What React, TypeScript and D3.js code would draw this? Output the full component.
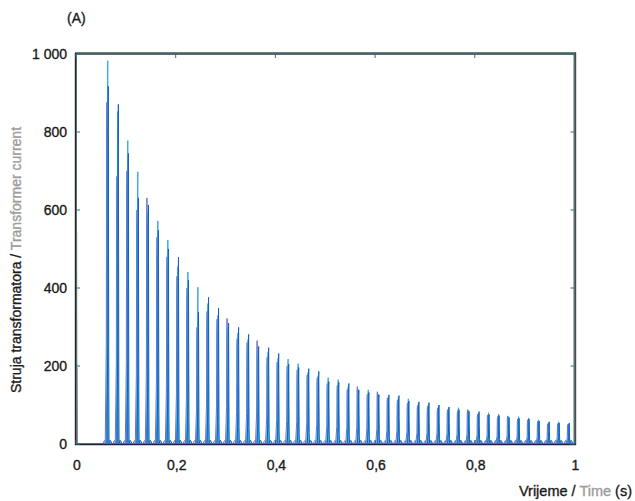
import React from "react";
import * as d3 from "d3";

const W = 635;
const H = 501;
const X0 = 76;
const X1 = 574.5;
const Y0 = 444;
const Y1 = 54;

const xTicks = [0, 0.2, 0.4, 0.6, 0.8, 1];
const xTickLabels = ["0", "0,2", "0,4", "0,6", "0,8", "1"];
const yTicks = [0, 200, 400, 600, 800, 1000];
const yTickLabels = ["0", "200", "400", "600", "800", "1 000"];

// Timing of the current pulses (one per 50 Hz cycle)
const firstPeakTime = 0.0637;
const cyclePeriod = 0.0201;

// Peak current per cycle (A), three overlaid traces
const peaksA = [917, 871, 745, 631, 613, 548, 500, 479, 420, 338, 376, 348, 310, 299, 281, 250, 247, 232, 205, 196, 193, 186, 160, 158, 155, 138, 132, 126, 126, 124, 110, 108, 106, 100, 95, 88, 84, 83, 76, 73, 68, 66, 64, 59, 57, 54, 54];
const peaksB = [983, 853, 778, 698, 595, 572, 523, 455, 441, 402, 360, 330, 300, 285, 268, 240, 236, 220, 218, 206, 184, 175, 170, 165, 146, 140, 139, 128, 120, 118, 116, 102, 100, 96, 90, 93, 86, 78, 80, 77, 70, 70, 67, 62, 54, 57, 51];
const peaksC = [876, 686, 700, 600, 631, 530, 480, 430, 400, 299, 340, 320, 322, 270, 260, 265, 222, 210, 200, 190, 178, 170, 155, 150, 140, 147, 128, 134, 118, 112, 105, 98, 96, 92, 88, 85, 88, 76, 74, 70, 72, 64, 62, 58, 52, 52, 50];

// Initial inrush at switch-on (A)
const initialInrush = [545, 196];

type Pt = [number, number];

const x = d3.scaleLinear().domain([0, 1]).range([X0, X1]);
const y = d3.scaleLinear().domain([0, 1000]).range([Y0, Y1]);

function buildSeries(peaks: number[], shift: number, humpAfter: boolean): Pt[] {
  const pts: Pt[] = [[0.002, 1]];
  peaks.forEach((p, k) => {
    const tp = firstPeakTime + k * cyclePeriod + shift;
    if (!humpAfter) {
      pts.push([tp - 0.0075, 1], [tp - 0.006, 7], [tp - 0.0045, 9], [tp - 0.0032, 2]);
    } else {
      pts.push([tp - 0.003, 1]);
    }
    pts.push(
      [tp - 0.0011, 0.3 * p],
      [tp - 0.0006, 0.9 * p],
      [tp, p],
      [tp + 0.0004, 0.55 * p],
      [tp + 0.0009, 0.15 * p],
      [tp + 0.0014, 1]
    );
    if (humpAfter) {
      pts.push([tp + 0.0025, 6], [tp + 0.004, 9], [tp + 0.0055, 6], [tp + 0.007, 1]);
    }
  });
  pts.push([1, 1]);
  return pts;
}

const seriesDefs = [
  { peaks: peaksC, color: "#6b72c8", shift: -0.0018, humpAfter: false },
  { peaks: peaksB, color: "#36a9e1", shift: 0, humpAfter: true },
  { peaks: peaksA, color: "#1262bd", shift: 0.0012, humpAfter: true },
];

const inrushColors = ["#2b7a78", "#7a5fb8"];

export default function App() {
  const line = d3
    .line<Pt>()
    .x((d) => x(d[0]))
    .y((d) => y(d[1]));

  const font = "'Liberation Sans', Arial, Helvetica, sans-serif";
  const dark = "#1a1a1a";
  const gray = "#9c9c9c";
  const sw = 0.35;

  return (
    <svg width={W} height={H} style={{ display: "block", position: "absolute", left: 0, top: 0 }} fontFamily={font}>
      <rect width={W} height={H} fill="#fff" />
      <defs>
        <clipPath id="plotClip">
          <rect x={X0} y={Y1} width={X1 - X0} height={Y0 - Y1} />
        </clipPath>
      </defs>

      <g clipPath="url(#plotClip)">
        {initialInrush.map((v, i) => (
          <path
            key={"in" + i}
            d={line([
              [0.001 + i * 0.0006, v],
              [0.0016 + i * 0.0006, 0],
            ]) as string}
            fill="none"
            stroke={inrushColors[i]}
            strokeWidth={1.2}
          />
        ))}
        {seriesDefs.map((s, i) => (
          <path
            key={i}
            d={line(buildSeries(s.peaks, s.shift, s.humpAfter)) as string}
            fill="none"
            stroke={s.color}
            strokeWidth={1}
            strokeLinejoin="round"
          />
        ))}
      </g>

      {/* frame */}
      <rect x={X0} y={Y1} width={X1 - X0} height={Y0 - Y1} fill="none" stroke="#606a6a" strokeWidth={2} />
      <line x1={X0 - 1} x2={X1 + 1.5} y1={Y1 - 1.2} y2={Y1 - 1.2} stroke="#1f5053" strokeWidth={1} />
      <line x1={X1 + 1.2} x2={X1 + 1.2} y1={Y1 - 1.5} y2={Y0 + 1} stroke="#1f4043" strokeWidth={1} />
      <line x1={X0 - 0.6} x2={X0 - 0.6} y1={Y1 - 1} y2={Y0 + 1} stroke="#1d2a2c" strokeWidth={1.2} />
      <line x1={X0 - 1} x2={X1 + 1.5} y1={Y0 + 0.6} y2={Y0 + 0.6} stroke="#1b2438" strokeWidth={1.4} />

      {/* ticks inward */}
      {yTicks.map((t) => (
        <g key={"yt" + t}>
          <line x1={X0} x2={X0 + 4} y1={y(t)} y2={y(t)} stroke="#3a6a70" strokeWidth={1} />
          <line x1={X1 - 4} x2={X1} y1={y(t)} y2={y(t)} stroke="#3a6a70" strokeWidth={1} />
        </g>
      ))}
      {xTicks.map((t) => (
        <g key={"xt" + t}>
          <line x1={x(t)} x2={x(t)} y1={Y1} y2={Y1 + 4} stroke="#3a6a70" strokeWidth={1} />
          <line x1={x(t)} x2={x(t)} y1={Y0 - 4} y2={Y0} stroke="#3a6a70" strokeWidth={1} />
        </g>
      ))}

      {/* tick labels */}
      {yTicks.map((t, i) => (
        <text key={"yl" + t} x={67} y={y(t)} dy="0.36em" textAnchor="end" fontSize={14} fill={dark} stroke={dark} strokeWidth={sw}>
          {yTickLabels[i]}
        </text>
      ))}
      {xTicks.map((t, i) => (
        <text key={"xl" + t} x={x(t) + 1} y={470} textAnchor="middle" fontSize={14} fill={dark} stroke={dark} strokeWidth={sw}>
          {xTickLabels[i]}
        </text>
      ))}

      {/* unit label */}
      <text x={67} y={23} fontSize={14} fill={dark} stroke={dark} strokeWidth={sw}>
        (A)
      </text>

      {/* y title */}
      <text transform="translate(21,260) rotate(-90)" textAnchor="middle" fontSize={14} fill={dark} stroke={dark} strokeWidth={sw}>
        Struja transformatora / <tspan fill={gray} stroke={gray}>Transformer current</tspan>
      </text>

      {/* x title */}
      <text x={632} y={496} textAnchor="end" fontSize={14.5} fill={dark} stroke={dark} strokeWidth={sw}>
        Vrijeme / <tspan fill={gray} stroke={gray}>Time</tspan> (s)
      </text>
    </svg>
  );
}
